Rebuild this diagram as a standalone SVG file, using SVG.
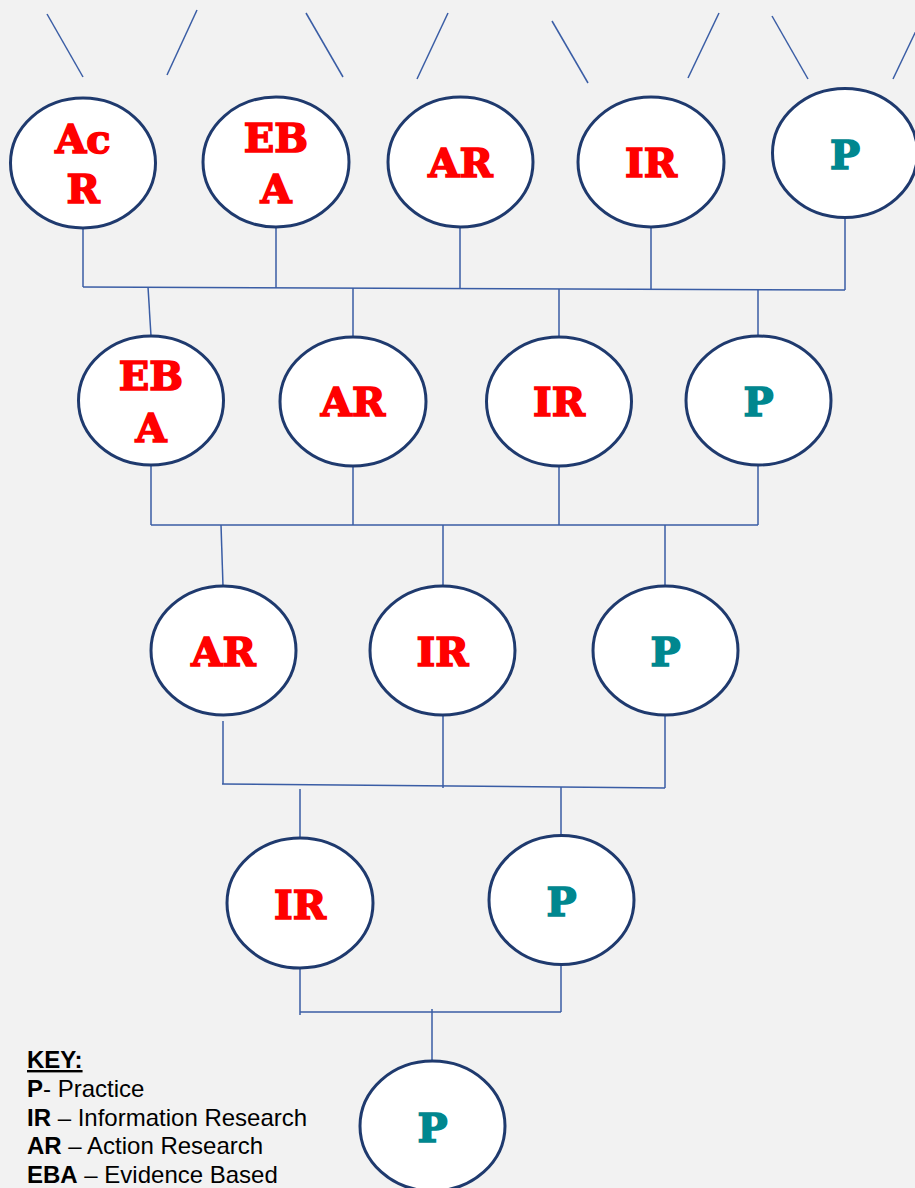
<svg xmlns="http://www.w3.org/2000/svg" width="915" height="1188" viewBox="0 0 915 1188">
<style>
.bg{fill:#F2F2F2}
.c line{stroke:#3A5DA5;stroke-width:1.5;fill:none}
.n ellipse{fill:#FFFFFF;stroke:#1F3A6E;stroke-width:3}
.n text{font-family:"DejaVu Serif","Liberation Serif",serif;font-weight:900;font-size:40px;text-anchor:middle;stroke-width:1.6;stroke-linejoin:miter}
.r{fill:#FF0000;stroke:#FF0000}
.t{fill:#00878F;stroke:#00878F}
.k{font-family:"Liberation Sans",Arial,sans-serif;font-size:24px;fill:#000000}
.k .b{font-weight:bold}
</style>
<rect class="bg" x="0" y="0" width="915" height="1188"/>
<g id="connectors" class="c">
<line x1="47" y1="14" x2="83" y2="77"/>
<line x1="197" y1="10" x2="167" y2="75"/>
<line x1="306" y1="13" x2="343" y2="77"/>
<line x1="448" y1="13" x2="417" y2="79"/>
<line x1="552" y1="21" x2="588" y2="83"/>
<line x1="719" y1="13" x2="688" y2="78"/>
<line x1="772" y1="16" x2="808" y2="79"/>
<line x1="924" y1="14" x2="893" y2="79"/>
<line x1="83" y1="287" x2="845" y2="290"/>
<line x1="83" y1="228" x2="83" y2="287"/>
<line x1="276" y1="227" x2="276" y2="288"/>
<line x1="460" y1="227" x2="460" y2="288"/>
<line x1="651" y1="227" x2="651" y2="289"/>
<line x1="845" y1="218" x2="845" y2="290"/>
<line x1="148" y1="287" x2="151" y2="336"/>
<line x1="353" y1="288" x2="353" y2="337"/>
<line x1="559" y1="289" x2="559" y2="337"/>
<line x1="758" y1="290" x2="758" y2="336"/>
<line x1="151" y1="525" x2="758" y2="525"/>
<line x1="151" y1="465" x2="151" y2="525"/>
<line x1="353" y1="466" x2="353" y2="525"/>
<line x1="559" y1="466" x2="559" y2="525"/>
<line x1="758" y1="465" x2="758" y2="525"/>
<line x1="221" y1="525" x2="223" y2="586"/>
<line x1="443" y1="525" x2="443" y2="586"/>
<line x1="665" y1="525" x2="665" y2="586"/>
<line x1="222" y1="784" x2="665" y2="788"/>
<line x1="223" y1="721" x2="223" y2="784"/>
<line x1="443" y1="715" x2="443" y2="788"/>
<line x1="665" y1="715" x2="665" y2="788"/>
<line x1="300" y1="789" x2="300" y2="838"/>
<line x1="561" y1="787" x2="561" y2="836"/>
<line x1="300" y1="1012" x2="561" y2="1012"/>
<line x1="300" y1="968" x2="300" y2="1015"/>
<line x1="561" y1="964" x2="561" y2="1012"/>
<line x1="432" y1="1009" x2="432" y2="1061"/>
</g>
<g id="n1" class="n"><ellipse cx="83" cy="163" rx="72.5" ry="65"/><text class="r" x="83" y="153">Ac</text><text class="r" x="83" y="203">R</text></g>
<g id="n2" class="n"><ellipse cx="276" cy="162" rx="73" ry="65"/><text class="r" x="276" y="152">EB</text><text class="r" x="276" y="203">A</text></g>
<g id="n3" class="n"><ellipse cx="460.5" cy="162" rx="72.5" ry="65"/><text class="r" x="460.5" y="177">AR</text></g>
<g id="n4" class="n"><ellipse cx="651" cy="162" rx="73" ry="65"/><text class="r" x="651" y="177">IR</text></g>
<g id="n5" class="n"><ellipse cx="845" cy="153" rx="72.5" ry="64.5"/><text class="t" x="845" y="169">P</text></g>
<g id="n6" class="n"><ellipse cx="151" cy="400.5" rx="72.5" ry="64.5"/><text class="r" x="151" y="390">EB</text><text class="r" x="151" y="442">A</text></g>
<g id="n7" class="n"><ellipse cx="353" cy="401.5" rx="73" ry="64.5"/><text class="r" x="353" y="416">AR</text></g>
<g id="n8" class="n"><ellipse cx="559" cy="401.5" rx="72.5" ry="64.5"/><text class="r" x="559" y="416">IR</text></g>
<g id="n9" class="n"><ellipse cx="758.5" cy="400.5" rx="72.5" ry="64.5"/><text class="t" x="758.5" y="416">P</text></g>
<g id="n10" class="n"><ellipse cx="223.5" cy="650.5" rx="72.5" ry="64.5"/><text class="r" x="223.5" y="666">AR</text></g>
<g id="n11" class="n"><ellipse cx="442.5" cy="650.5" rx="72.5" ry="64.5"/><text class="r" x="442.5" y="666">IR</text></g>
<g id="n12" class="n"><ellipse cx="665.5" cy="650.5" rx="72.5" ry="64.5"/><text class="t" x="665.5" y="666">P</text></g>
<g id="n13" class="n"><ellipse cx="300" cy="903" rx="73" ry="65"/><text class="r" x="300" y="919">IR</text></g>
<g id="n14" class="n"><ellipse cx="561.5" cy="900" rx="72.5" ry="64.5"/><text class="t" x="561.5" y="916">P</text></g>
<g id="n15" class="n"><ellipse cx="432.5" cy="1126" rx="72.5" ry="65"/><text class="t" x="432.5" y="1142">P</text></g>
<g id="key" class="k">
<text x="27" y="1068" class="b" text-decoration="underline">KEY:</text>
<text x="27" y="1097"><tspan class="b">P</tspan>- Practice</text>
<text x="27" y="1126"><tspan class="b">IR</tspan> – Information Research</text>
<text x="27" y="1154"><tspan class="b">AR</tspan> – Action Research</text>
<text x="27" y="1183"><tspan class="b">EBA</tspan> – Evidence Based</text>
</g>
</svg>
